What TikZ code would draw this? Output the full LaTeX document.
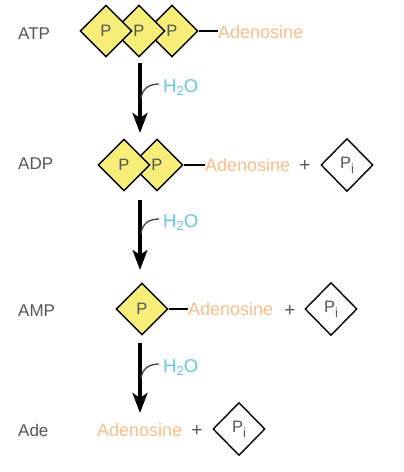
\documentclass[tikz,border=0pt]{standalone}
\usepackage{fontspec}
\setmainfont{Liberation Sans}
\usetikzlibrary{shapes.geometric,arrows.meta}
\definecolor{pyellow}{HTML}{F7EE7A}
\definecolor{adeno}{HTML}{F7BF8E}
\definecolor{water}{HTML}{6CC5D8}
\definecolor{lbl}{HTML}{555555}
\tikzset{
  phos/.style={diamond,draw=black,line width=1.4pt,fill=pyellow,inner sep=0pt,
    minimum width=52pt,minimum height=52pt,font=\fontsize{16.5}{16.5}\selectfont,text=lbl},
  pifree/.style={diamond,draw=black,line width=1.4pt,fill=white,inner sep=0pt,
    minimum width=52pt,minimum height=53pt,font=\fontsize{16.5}{16.5}\selectfont,text=lbl},
  rowlbl/.style={anchor=base west,inner sep=0pt,text=lbl,font=\fontsize{17}{17}\selectfont},
  adenos/.style={anchor=base west,inner sep=0pt,text=adeno,font=\fontsize{18}{18}\selectfont},
  plus/.style={anchor=center,inner sep=0pt,text=lbl,font=\fontsize{19}{19}\selectfont},
  watr/.style={anchor=base west,inner sep=0pt,text=water,font=\fontsize{18.5}{18.5}\selectfont},
  bond/.style={draw=black,line width=1.2pt},
  react/.style={draw=black,line width=3.6pt,-{Stealth[length=20pt,width=15pt,inset=5pt]}},
  hook/.style={draw=lbl!80!black,line width=1.3pt},
}
\newcommand{\pisym}{P\raisebox{-5pt}{\fontsize{13}{13}\selectfont i}}
\newcommand{\htwoo}{H\raisebox{-0.35ex}{\fontsize{13}{13}\selectfont 2}O}
\begin{document}
\begin{tikzpicture}[x=1pt,y=-1pt]
\useasboundingbox (0,0) rectangle (404,472);
\fill[white] (0,0) rectangle (404,472);
% ATP
\node[rowlbl] (latp) at (18,39) {ATP};
\node[phos] (a3) at (172,31) {P};
\node[phos] (a2) at (139,31) {P};
\node[phos] (a1) at (106,31) {P};
\node[adenos] (aden1) at (218,38) {Adenosine};
\draw[bond] (a3.east) -- (aden1.west |- a3.east);
% arrow 1
\coordinate (s1) at (140,63);
\coordinate (e1) at (140,133);
\draw[react] (s1) -- (e1);
\node[watr] (w1) at (163,92) {\htwoo};
\coordinate (h1s) at (141,99);
\coordinate (h1e) at (159,84);
\draw[hook] (h1s) .. controls (142,88) and (150,84) .. (h1e);
% ADP
\node[rowlbl] (ladp) at (18,169) {ADP};
\node[phos] (b2) at (157,165) {P};
\node[phos] (b1) at (124,165) {P};
\node[adenos] (aden2) at (205,171) {Adenosine};
\draw[bond] (b2.east) -- (aden2.west |- b2.east);
\node[plus] (p2) at (305,166) {+};
\node[pifree] (pi2) at (347,165) {\pisym};
% arrow 2
\coordinate (s2) at (140,200);
\coordinate (e2) at (140,270);
\draw[react] (s2) -- (e2);
\node[watr] (w2) at (163,227) {\htwoo};
\coordinate (h2s) at (141,234);
\coordinate (h2e) at (159,219);
\draw[hook] (h2s) .. controls (142,223) and (150,219) .. (h2e);
% AMP
\node[rowlbl] (lamp) at (18,316) {AMP};
\node[phos] (c1) at (142,309) {P};
\node[adenos] (aden3) at (188,315) {Adenosine};
\draw[bond] (c1.east) -- (aden3.west |- c1.east);
\node[plus] (p3) at (290,311) {+};
\node[pifree] (pi3) at (331,309) {\pisym};
% arrow 3
\coordinate (s3) at (140,343);
\coordinate (e3) at (140,413);
\draw[react] (s3) -- (e3);
\node[watr] (w3) at (163,372) {\htwoo};
\coordinate (h3s) at (141,379);
\coordinate (h3e) at (159,364);
\draw[hook] (h3s) .. controls (142,368) and (150,364) .. (h3e);
% Ade
\node[rowlbl] (lade) at (18,436) {Ade};
\node[adenos] (aden4) at (97,436) {Adenosine};
\node[plus] (p4) at (197,431) {+};
\node[pifree] (pi4) at (239,429) {\pisym};
\end{tikzpicture}
\end{document}
